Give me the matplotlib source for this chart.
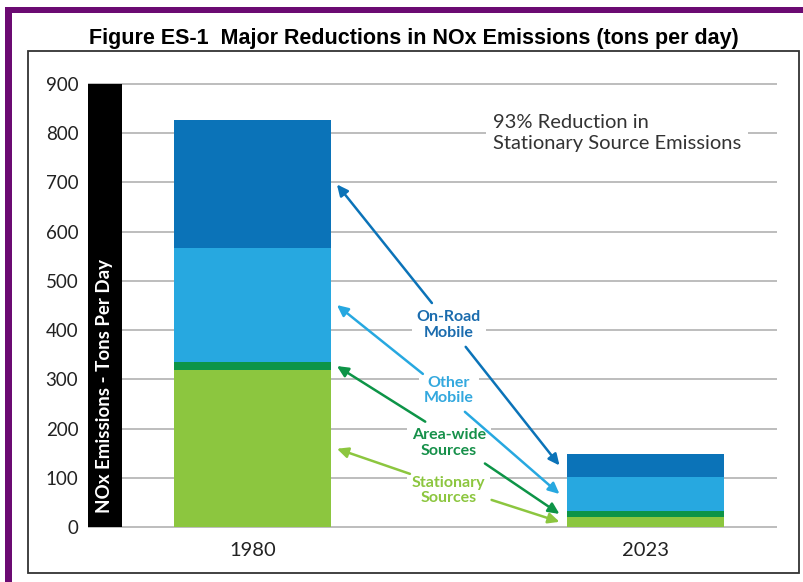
import matplotlib
matplotlib.use('Agg')
import matplotlib.pyplot as plt
from matplotlib.patches import Rectangle

# ---------------- data ----------------
categories = ['1980', '2023']
stationary = [318, 21]
area_wide = [18, 11]
other_mobile = [230, 70]
on_road = [260, 46]
yticks = [0, 100, 200, 300, 400, 500, 600, 700, 800, 900]
series_labels = ['Stationary\nSources', 'Area-wide\nSources', 'Other\nMobile', 'On-Road\nMobile']
title = 'Figure ES-1  Major Reductions in NOx Emissions (tons per day)'
ylabel = 'NOx Emissions - Tons Per Day'
note = '93% Reduction in\nStationary Source Emissions'

# ---------------- style / layout ----------------
bar_colors = ['#8cc63f', '#0d9447', '#27a8e0', '#0b73b8']
text_colors = ['#8cc63f', '#16904a', '#33a8de', '#1b6cae']
label_y = [74, 171, 277, 410]                 # label centre heights (data units)
upper_tails = [(0.401, 108), (0.44, 214), (0.434, 311), (0.457, 455)]
lower_tails = [(0.609, 55), (0.592, 129), (0.541, 234), (0.543, 366)]

W, H = 804, 582
fig = plt.figure(figsize=(W / 100, H / 100), dpi=100)
fig.patch.set_facecolor('white')

ppu = (527 - 84) / 900.0
y_lo, y_hi = -5, 905
ax_bottom_px = 527 + 5 * ppu
ax_top_px = 84 - 5 * ppu
ax = fig.add_axes([88 / W, 1 - ax_bottom_px / H, (777 - 88) / W, (ax_bottom_px - ax_top_px) / H])
ax.set_facecolor('white')

x = list(range(len(categories)))
width = 0.4
bottoms = [0.0] * len(categories)
mids = []
for vals, c in zip([stationary, area_wide, other_mobile, on_road], bar_colors):
    ax.bar(x, vals, width, bottom=bottoms, color=c, zorder=3, linewidth=0)
    mids.append([b + v / 2 for b, v in zip(bottoms, vals)])
    bottoms = [b + v for b, v in zip(bottoms, vals)]

ax.set_xlim(-0.419, 1.336)
ax.set_ylim(y_lo, y_hi)
ax.set_yticks(yticks)
ax.set_xticks(x)
ax.set_xticklabels(categories)
ax.yaxis.grid(True, color='#b8b8b8', lw=1.3, zorder=0)
ax.set_axisbelow(True)
for s in ax.spines.values():
    s.set_visible(False)
ax.tick_params(axis='y', length=0, pad=7, labelsize=13.5, labelcolor='#222222')
ax.tick_params(axis='x', length=0, pad=9, labelsize=14.5, labelcolor='#222222')
for lab in ax.get_xticklabels() + ax.get_yticklabels():
    lab.set_family('Lato')

# black y-label bar
ax.add_patch(Rectangle((-0.419, 0), 0.0855, 900, color='black', zorder=2, lw=0))
ax.text(-0.419 + 0.0855 / 2, 28, ylabel, rotation=90, ha='center', va='bottom',
        color='white', fontsize=13.5, fontweight='bold', family='Lato', zorder=6)

# note
ax.text(0.612, 800, note, ha='left', va='center', fontsize=14.5, color='#333333',
        family='Lato', linespacing=1.3, zorder=4,
        bbox=dict(boxstyle='square,pad=0.35', fc='white', ec='none'))

# labels and arrows
for i in range(4):
    ax.text(0.5, label_y[i], series_labels[i], ha='center', va='center', fontsize=11.5,
            fontweight='bold', color=text_colors[i], family='Lato', linespacing=1.15,
            zorder=4, bbox=dict(boxstyle='square,pad=0.3', fc='white', ec='none'))
    arrow = dict(arrowstyle='-|>,head_length=0.55,head_width=0.26', color=bar_colors[i],
                 lw=1.8, shrinkA=0, shrinkB=0, mutation_scale=12)
    ax.annotate('', xy=(x[0] + width / 2 + 0.015, mids[i][0]), xytext=upper_tails[i],
                arrowprops=arrow, zorder=5)
    ax.annotate('', xy=(x[1] - width / 2 - 0.018, mids[i][1]), xytext=lower_tails[i],
                arrowprops=arrow, zorder=5)

# title
fig.text(413.5 / W, 1 - 44 / H, title, ha='center', va='baseline', fontsize=15.5,
         fontweight='bold', family='Liberation Sans', color='black')

# frame
fig.patches.append(Rectangle((28 / W, 1 - 572.7 / H), (799 - 28) / W, (572.7 - 50.5) / H,
                             transform=fig.transFigure, fill=False, ec='#333333', lw=1.3))
# purple border (top & left)
purple = '#6b0a72'
fig.patches.append(Rectangle((5 / W, 1 - 12.7 / H), (W - 5) / W, 5.7 / H,
                             transform=fig.transFigure, color=purple, lw=0))
fig.patches.append(Rectangle((5 / W, 0), 6.7 / W, 1 - 7 / H,
                             transform=fig.transFigure, color=purple, lw=0))

fig.savefig('out.png', dpi=100)
